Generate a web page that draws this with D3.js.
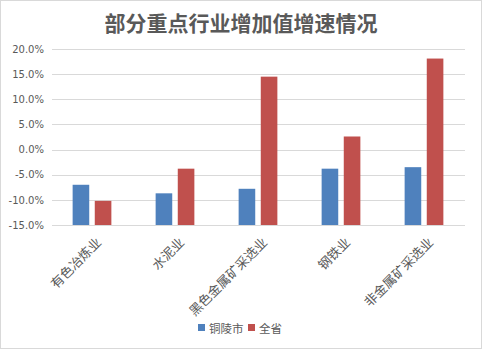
<!DOCTYPE html>
<html><head><meta charset="utf-8">
<script src="https://cdn.jsdelivr.net/npm/d3@7"></script>
<style>body{margin:0;background:#fff}svg{display:block}</style>
</head><body>
<script>
const categories = ["有色冶炼业","水泥业","黑色金属矿采选业","钢铁业","非金属矿采选业"];
const seriesNames = ["铜陵市","全省"];
const tonglingValues = [-7.0, -8.7, -7.8, -3.8, -3.5];
const provinceValues = [-10.2, -3.8, 14.5, 2.6, 18.1];
const yTicks = [-15, -10, -5, 0, 5, 10, 15, 20];
const colors = ["#4f81bd", "#c0504d"];

const W = 482, H = 349;
const svg = d3.select("body").append("svg").attr("width", W).attr("height", H);
svg.append("rect").attr("x",0.5).attr("y",0.5).attr("width",W-1).attr("height",H-1)
  .attr("fill","#fff").attr("stroke","#d9d9d9");

svg.append("text").attr("x", 241).attr("y", 31).attr("text-anchor","middle")
  .attr("font-family","'Noto Sans CJK SC'").attr("font-weight","bold").attr("font-size",21)
  .attr("fill","#595959").text("部分重点行业增加值增速情况");

const x = d3.scaleBand().domain(categories).range([50.5, 465.5]);
const y = d3.scaleLinear().domain([-15, 20]).range([225, 49]);
const inner = d3.scaleBand().domain([0,1]).range([0, x.bandwidth()]).paddingInner(0.25).paddingOuter(1.0);

const grid = svg.append("g");
yTicks.forEach(t => {
  grid.append("line").attr("x1",52).attr("x2",465).attr("y1",Math.round(y(t))+0.5).attr("y2",Math.round(y(t))+0.5)
    .attr("stroke","#d9d9d9").attr("stroke-width",1);
});

const yAxis = d3.axisLeft(y).tickValues(yTicks).tickSize(0).tickFormat(d => d.toFixed(1) + "%");
const ga = svg.append("g").attr("transform","translate(46,0)").call(yAxis);
ga.select(".domain").remove();
ga.selectAll("text").attr("font-family","'DejaVu Sans'").attr("font-size",10).attr("fill","#595959").attr("x",-2);

const series = [tonglingValues, provinceValues];
series.forEach((vals, si) => {
  svg.append("g").selectAll("rect").data(vals).join("rect")
    .attr("x", (d,i) => x(categories[i]) + inner(si))
    .attr("width", inner.bandwidth())
    .attr("y", d => y(d))
    .attr("height", d => y(-15) - y(d))
    .attr("fill", colors[si]);
});

const xAxis = d3.axisBottom(x).tickSize(0);
const gx = svg.append("g").attr("transform","translate(0,225)").call(xAxis);
gx.select(".domain").remove();
gx.selectAll("text")
  .attr("font-family","'Noto Sans CJK SC'").attr("font-size",13).attr("fill","#595959")
  .attr("text-anchor","end").attr("dy","0.35em")
  .attr("transform","translate(7,15) rotate(-45)")
  .attr("y",0).attr("x",0);

const legend = svg.append("g");
const lx = [198, 248];
seriesNames.forEach((n, i) => {
  legend.append("rect").attr("x", lx[i]).attr("y", 324).attr("width",7).attr("height",7).attr("fill",colors[i]);
  legend.append("text").attr("x", lx[i]+11).attr("y", 332.5).attr("font-family","'Noto Sans CJK SC'")
    .attr("font-size",11.5).attr("fill","#595959").text(n);
});
</script>
</body></html>
